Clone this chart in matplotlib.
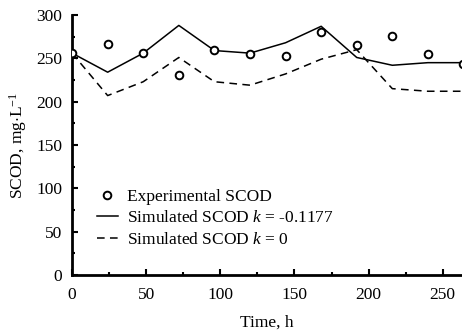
import matplotlib
matplotlib.use("Agg")
import matplotlib.pyplot as plt
from matplotlib.ticker import MultipleLocator

time_exp = [0, 24, 48, 72, 96, 120, 144, 168, 192, 216, 240, 264]
scod_exp = [256, 267, 256, 231, 260, 255, 253, 280, 265, 276, 255, 244]

time_sim = [0, 24, 48, 72, 96, 120, 144, 168, 192, 216, 240, 264]
scod_k1 = [256, 234, 256, 288, 259, 256, 268, 287, 251, 242, 245, 245]
scod_k0 = [256, 207, 223, 251, 223, 219, 232, 249, 260, 215, 212, 212]

plt.rcParams['font.family'] = ['Liberation Serif', 'DejaVu Serif']
plt.rcParams['mathtext.fontset'] = 'custom'
plt.rcParams['mathtext.it'] = 'Liberation Serif:italic'
plt.rcParams['mathtext.rm'] = 'Liberation Serif'

fs = 12.5

fig = plt.figure(figsize=(4.62, 3.34), dpi=100)
ax = fig.add_axes([0.156, 0.177, 0.844, 0.778])

ax.plot(time_exp, scod_exp, linestyle='none', marker='o', markersize=5.5,
        markerfacecolor='white', markeredgecolor='black', markeredgewidth=1.4,
        label='Experimental SCOD', zorder=3)
ax.plot(time_sim, scod_k1, color='black', linewidth=1.1,
        label='Simulated SCOD $k$ = -0.1177', zorder=2)
ax.plot(time_sim, scod_k0, color='black', linewidth=1.1, dashes=(5, 3.5),
        label='Simulated SCOD $k$ = 0', zorder=2)

ax.set_xlim(0, 263)
ax.set_ylim(0, 300)
ax.xaxis.set_major_locator(MultipleLocator(50))
ax.xaxis.set_minor_locator(MultipleLocator(25))
ax.yaxis.set_major_locator(MultipleLocator(50))
ax.yaxis.set_minor_locator(MultipleLocator(25))
ax.tick_params(which='both', direction='in', labelsize=fs, width=1.5)
ax.tick_params(which='major', length=4)
ax.tick_params(which='minor', length=2.5)
ax.tick_params(axis='x', which='major', pad=9)
ax.tick_params(axis='y', which='major', pad=7)

for s in ['top', 'right']:
    ax.spines[s].set_visible(False)
for s in ['left', 'bottom']:
    ax.spines[s].set_linewidth(2)

ax.set_xlabel('Time, h', fontsize=fs, labelpad=8)
ax.set_ylabel('SCOD, mg$\\cdot$L$^{-1}$', fontsize=fs, labelpad=5)

ax.legend(loc='upper left', bbox_to_anchor=(0.064, 0.332), frameon=False,
          fontsize=fs, handlelength=1.2, handletextpad=0.55,
          labelspacing=0.32, borderpad=0, borderaxespad=0)

fig.savefig('out.png', dpi=100)
